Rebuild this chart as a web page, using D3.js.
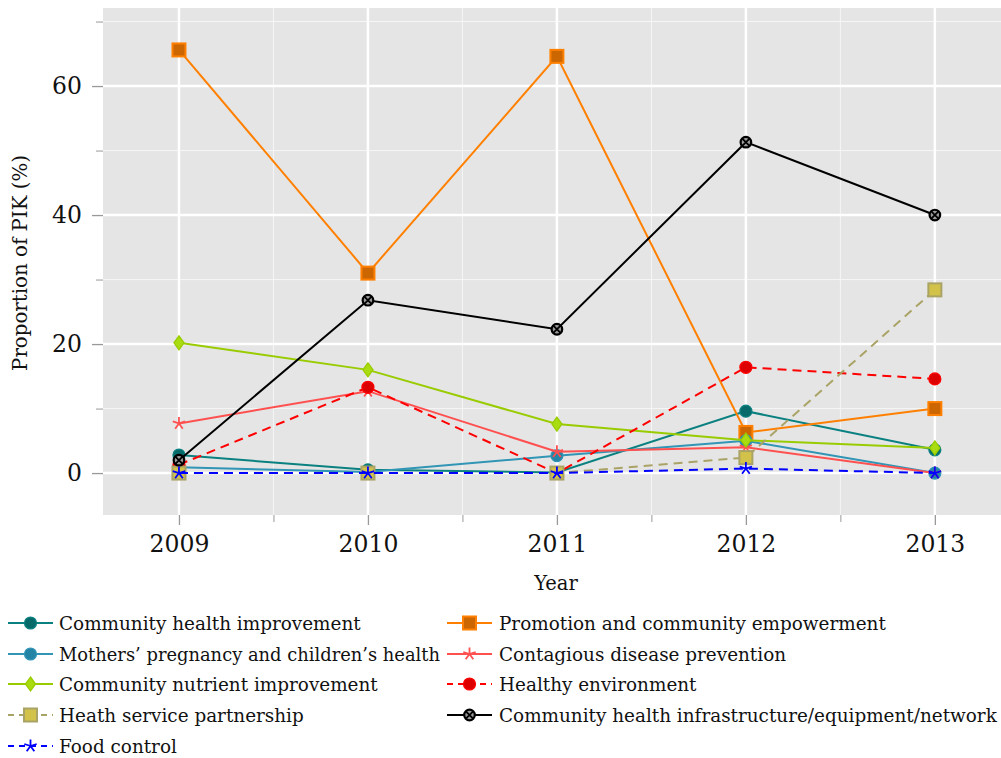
<!DOCTYPE html>
<html>
<head>
<meta charset="utf-8">
<script src="https://cdn.jsdelivr.net/npm/d3@7"></script>
<style>
  html, body { margin: 0; padding: 0; background: #fff; }
  svg { display: block; }
  text { font-family: "DejaVu Serif", serif; fill: #111; }
</style>
</head>
<body>
<svg id="chart" width="1001" height="758"></svg>
<script>
const years = [2009, 2010, 2011, 2012, 2013];
const yTicks = [0, 20, 40, 60];
const yMinorTicks = [10, 30, 50, 70];
const xMinorTicks = [2009.5, 2010.5, 2011.5, 2012.5];

const communityHealthImprovement = [2.8, 0.5, 0.1, 9.6, 3.6];
const promotionEmpowerment = [65.6, 31.0, 64.6, 6.3, 10.0];
const mothersChildrenHealth = [0.9, 0.15, 2.7, 5.0, 0.0];
const contagiousDisease = [7.7, 12.7, 3.3, 4.0, 0.0];
const nutrientImprovement = [20.2, 16.0, 7.6, 5.1, 3.9];
const healthyEnvironment = [1.3, 13.3, 0.0, 16.4, 14.6];
const healthServicePartnership = [0.0, 0.0, 0.0, 2.4, 28.4];
const infrastructure = [2.0, 26.8, 22.3, 51.3, 40.0];
const foodControl = [0.0, 0.0, 0.0, 0.7, 0.0];

const series = [
  {name: "Community health improvement", values: communityHealthImprovement, color: "#0a8080", fill: "#066a6a", mark: "circle", dash: null, col: 0, row: 0},
  {name: "Promotion and community empowerment", values: promotionEmpowerment, color: "#ff8000", fill: "#cc6600", mark: "square", dash: null, col: 1, row: 0},
  {name: "Mothers\u2019 pregnancy and children\u2019s health", values: mothersChildrenHealth, color: "#3195b5", fill: "#2484a6", mark: "circle", dash: null, col: 0, row: 1},
  {name: "Contagious disease prevention", values: contagiousDisease, color: "#ff5050", fill: "#ff5050", mark: "star", dash: null, col: 1, row: 1},
  {name: "Community nutrient improvement", values: nutrientImprovement, color: "#99cc00", fill: "#aadd11", mark: "diamond", dash: null, col: 0, row: 2},
  {name: "Healthy environment", values: healthyEnvironment, color: "#ff0000", fill: "#dd0000", mark: "circle", dash: "9,6", col: 1, row: 2},
  {name: "Heath service partnership", values: healthServicePartnership, color: "#aaa366", fill: "#d2c24a", mark: "square", dash: "9,6", col: 0, row: 3},
  {name: "Community health infrastructure/equipment/network", values: infrastructure, color: "#000000", fill: "#888888", mark: "otimes", dash: null, col: 1, row: 3},
  {name: "Food control", values: foodControl, color: "#0000ff", fill: "#0000ff", mark: "star", dash: "9,6", col: 0, row: 4}
];

const svg = d3.select("#chart");
const plot = {left: 103, right: 1001, top: 8, bottom: 515};

const x = d3.scaleLinear().domain([2008.598, 2013.35]).range([plot.left, plot.right]);
const y = d3.scaleLinear().domain([-6.5, 72.1]).range([plot.bottom, plot.top]);

svg.append("rect").attr("x", plot.left).attr("y", plot.top)
  .attr("width", plot.right - plot.left).attr("height", plot.bottom - plot.top)
  .attr("fill", "#e5e5e5");

const grid = svg.append("g");
grid.selectAll(".ymin").data(yMinorTicks).join("line")
  .attr("x1", plot.left).attr("x2", plot.right)
  .attr("y1", d => y(d)).attr("y2", d => y(d))
  .attr("stroke", "#f6f6f6").attr("stroke-width", 1);
grid.selectAll(".xmin").data(xMinorTicks).join("line")
  .attr("y1", plot.top).attr("y2", plot.bottom)
  .attr("x1", d => x(d)).attr("x2", d => x(d))
  .attr("stroke", "#f6f6f6").attr("stroke-width", 1);
grid.selectAll(".ymaj").data(yTicks).join("line")
  .attr("x1", plot.left).attr("x2", plot.right)
  .attr("y1", d => y(d)).attr("y2", d => y(d))
  .attr("stroke", "#ffffff").attr("stroke-width", 2.5);
grid.selectAll(".xmaj").data(years).join("line")
  .attr("y1", plot.top).attr("y2", plot.bottom)
  .attr("x1", d => x(d)).attr("x2", d => x(d))
  .attr("stroke", "#ffffff").attr("stroke-width", 2.5);

const xAxis = d3.axisBottom(x).tickValues(years).tickFormat(d3.format("d")).tickSize(10).tickPadding(10);
const gx = svg.append("g").attr("transform", `translate(0,${plot.bottom})`).call(xAxis);
gx.select(".domain").remove();
gx.selectAll(".tick line").attr("stroke", "#999").attr("stroke-width", 1.3);
gx.selectAll(".tick text").attr("font-size", 23.5).attr("font-family", "DejaVu Serif").attr("fill", "#111");
const xMinAxis = d3.axisBottom(x).tickValues(xMinorTicks).tickFormat("").tickSize(7);
const gxm = svg.append("g").attr("transform", `translate(0,${plot.bottom})`).call(xMinAxis);
gxm.select(".domain").remove();
gxm.selectAll(".tick line").attr("stroke", "#999").attr("stroke-width", 1);

const yAxis = d3.axisLeft(y).tickValues(yTicks).tickSize(11).tickPadding(10);
const gy = svg.append("g").attr("transform", `translate(${plot.left},0)`).call(yAxis);
gy.select(".domain").remove();
gy.selectAll(".tick line").attr("stroke", "#999").attr("stroke-width", 1.3);
gy.selectAll(".tick text").attr("font-size", 23.5).attr("font-family", "DejaVu Serif").attr("fill", "#111");
const yMinAxis = d3.axisLeft(y).tickValues(yMinorTicks).tickFormat("").tickSize(7);
const gym = svg.append("g").attr("transform", `translate(${plot.left},0)`).call(yMinAxis);
gym.select(".domain").remove();
gym.selectAll(".tick line").attr("stroke", "#999").attr("stroke-width", 1);

svg.append("text").attr("x", (plot.left + plot.right) / 2 + 4).attr("y", 590)
  .attr("text-anchor", "middle").attr("font-size", 19.5).text("Year");
svg.append("text").attr("transform", `translate(27,263) rotate(-90)`)
  .attr("text-anchor", "middle").attr("font-size", 19.8).text("Proportion of PIK (%)");

function drawMark(g, s, cx, cy) {
  if (s.mark === "circle") {
    g.append("circle").attr("cx", cx).attr("cy", cy).attr("r", 6)
      .attr("fill", s.fill).attr("stroke", s.color).attr("stroke-width", 1.2);
  } else if (s.mark === "square") {
    g.append("rect").attr("x", cx - 6.5).attr("y", cy - 6.5).attr("width", 13).attr("height", 13)
      .attr("fill", s.fill).attr("stroke", s.color).attr("stroke-width", 2);
  } else if (s.mark === "diamond") {
    g.append("path").attr("d", `M${cx},${cy-7}L${cx+5},${cy}L${cx},${cy+7}L${cx-5},${cy}Z`)
      .attr("fill", s.fill).attr("stroke", s.color).attr("stroke-width", 1.3);
  } else if (s.mark === "star") {
    let p = "";
    for (let i = 0; i < 5; i++) {
      const a = -Math.PI / 2 + i * 2 * Math.PI / 5;
      p += `M${cx},${cy}L${cx + 6.5 * Math.cos(a)},${cy + 6.5 * Math.sin(a)}`;
    }
    g.append("path").attr("d", p).attr("fill", "none").attr("stroke", s.color).attr("stroke-width", 1.8);
  } else if (s.mark === "otimes") {
    g.append("circle").attr("cx", cx).attr("cy", cy).attr("r", 5.3)
      .attr("fill", "#9a9a9a").attr("stroke", "#000").attr("stroke-width", 2.2);
    const r = 3.6;
    g.append("path").attr("d", `M${cx-r},${cy-r}L${cx+r},${cy+r}M${cx-r},${cy+r}L${cx+r},${cy-r}`)
      .attr("stroke", "#000").attr("stroke-width", 1.8);
  }
}

const line = d3.line().x((d, i) => x(years[i])).y(d => y(d));

const plotG = svg.append("g");
series.forEach(s => {
  const g = plotG.append("g");
  g.append("path").attr("d", line(s.values)).attr("fill", "none")
    .attr("stroke", s.color).attr("stroke-width", 2)
    .attr("stroke-dasharray", s.dash);
  s.values.forEach((v, i) => drawMark(g, s, x(years[i]), y(v)));
});

const legendCols = [{lx: 8, tx: 59, maxEnd: 440}, {lx: 447, tx: 499, maxEnd: 1000}];
const rowY = [623, 654, 684, 715, 746];
const lg = svg.append("g");
series.forEach(s => {
  const c = legendCols[s.col];
  const yy = rowY[s.row];
  const g = lg.append("g");
  g.append("line").attr("x1", c.lx).attr("x2", c.lx + 45).attr("y1", yy).attr("y2", yy)
    .attr("stroke", s.color).attr("stroke-width", 2).attr("stroke-dasharray", s.dash ? "6,5" : null);
  drawMark(g, s, c.lx + 22.5, yy);
  const t = g.append("text").attr("x", c.tx).attr("y", yy + 6.5).attr("font-size", 18.4).text(s.name);
  const w = t.node().getComputedTextLength();
  if (c.tx + w > c.maxEnd) {
    t.attr("textLength", c.maxEnd - c.tx).attr("lengthAdjust", "spacingAndGlyphs");
  }
});
</script>
</body>
</html>
